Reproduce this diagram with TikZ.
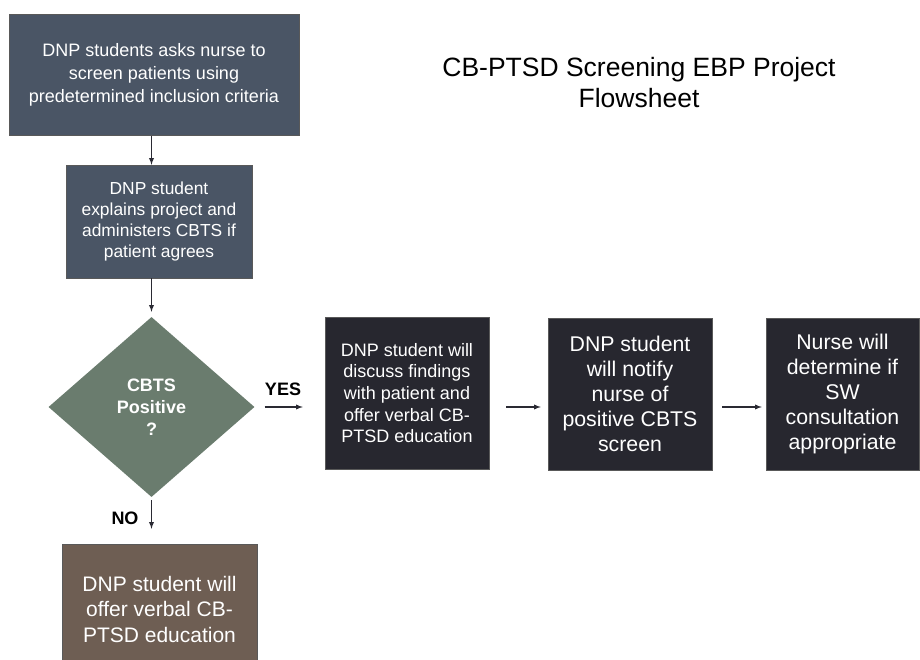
\documentclass[tikz,border=0pt]{standalone}
\usepackage{fontspec}
\setmainfont{Liberation Sans}
\usetikzlibrary{shapes.geometric}
\definecolor{slate}{HTML}{4A5565}
\definecolor{sage}{HTML}{6A7C6E}
\definecolor{ink}{HTML}{27272F}
\definecolor{umber}{HTML}{6E5E53}
\definecolor{arrowc}{HTML}{2A2A33}
\begin{document}
\begin{tikzpicture}[x=1pt,y=-1pt,
 box/.style={draw=black!65,thin,text=white,align=center,inner sep=0pt},
 arr/.style={->,>=latex,draw=arrowc,line width=1.3pt},
 lbl/.style={font=\bfseries\fontsize{18}{20}\selectfont,inner sep=0pt}]
 \clip (0,0) rectangle (920,660);
 \fill[white] (0,0) rectangle (920,660);
 % left column
 \node[box,fill=slate,minimum width=290pt,minimum height=121pt,font=\fontsize{18}{23}\selectfont] (ask) at (154,75)
  {DNP students asks nurse to\\screen patients using\\predetermined inclusion criteria};
 \node[box,fill=slate,minimum width=186pt,minimum height=113pt,font=\fontsize{17.4}{21}\selectfont] (explain) at (159,221.5)
  {DNP student\\explains project and\\administers CBTS if\\patient agrees};
 \node[box,diamond,fill=sage,draw=none,minimum width=206pt,minimum height=180pt,font=\bfseries\fontsize{18}{22}\selectfont] (chk) at (151.5,407)
  {CBTS\\Positive\\?};
 \node[box,fill=umber,minimum width=195pt,minimum height=130pt,font=\fontsize{21}{25.5}\selectfont] (offer) at (159.5,609)
  {DNP student will\\offer verbal CB-\\PTSD education};
 % right row
 \node[box,fill=ink,minimum width=164pt,minimum height=152pt,font=\fontsize{18}{21.7}\selectfont] (discuss) at (407,393)
  {DNP student will\\discuss findings\\with patient and\\offer verbal CB-\\PTSD education};
 \node[box,fill=ink,minimum width=164pt,minimum height=152pt,font=\fontsize{21.3}{25}\selectfont] (notify) at (630,394)
  {DNP student\\will notify\\nurse of\\positive CBTS\\screen};
 \node[box,fill=ink,minimum width=153pt,minimum height=152pt,font=\fontsize{21.3}{25}\selectfont] (decide) at (842.5,394)
  {Nurse will\\determine if\\SW\\consultation\\appropriate};
 % title
 \node[align=center,font=\fontsize{26.5}{31}\selectfont,inner sep=0pt] (title) at (639,83)
  {CB-PTSD Screening EBP Project\\Flowsheet};
 \node[lbl] (yes) at (283,389) {YES};
 \node[lbl] (no) at (125,518) {NO};
 % connectors
 \draw[arr] (ask.south -| chk.north) -- (explain.north -| chk.north);
 \draw[arr,shorten >=5pt] (explain.south -| chk.north) -- (chk.north);
 \draw[arr,shorten <=10pt,shorten >=22pt] (chk.east) -- (chk.east -| discuss.west);
 \draw[arr,shorten <=17pt,shorten >=7pt] (discuss.east |- chk.east) -- (notify.west |- chk.east);
 \draw[arr,shorten <=10pt,shorten >=4pt] (notify.east |- chk.east) -- (decide.west |- chk.east);
 \draw[arr,shorten <=3pt,shorten >=15pt] (chk.south) -- (chk.south |- offer.north);
\end{tikzpicture}
\end{document}
